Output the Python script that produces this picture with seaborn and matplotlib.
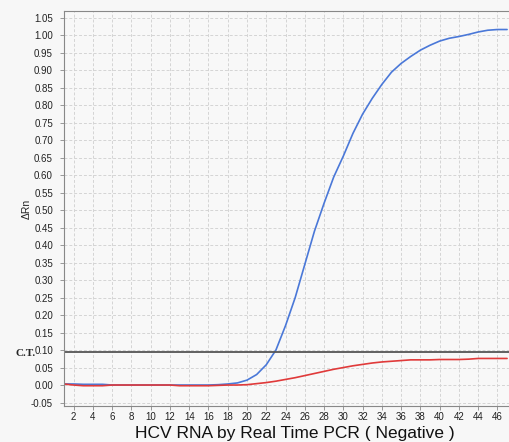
import matplotlib
matplotlib.use("Agg")
import matplotlib.pyplot as plt
import seaborn as sns
import pandas as pd

# Amplification data
cycles = list(range(1, 48))
positive = [0.003, 0.003, 0.002, 0.002, 0.002, 0.0, 0.0, 0.0, 0.0, 0.0,
            0.0, 0.0, 0.0, 0.0, 0.0, 0.0, 0.001, 0.003, 0.006, 0.014,
            0.03, 0.058, 0.10, 0.17, 0.25, 0.345, 0.44, 0.52, 0.595, 0.655,
            0.72, 0.775, 0.82, 0.86, 0.895, 0.92, 0.94, 0.958, 0.972, 0.984,
            0.992, 0.997, 1.003, 1.01, 1.015, 1.017, 1.017]
negative = [0.003, 0.0, -0.002, -0.002, -0.002, 0.0, 0.0, 0.0, 0.0, 0.0,
            0.0, 0.0, -0.002, -0.002, -0.002, -0.002, -0.001, 0.0, 0.0, 0.001,
            0.004, 0.007, 0.011, 0.016, 0.021, 0.027, 0.033, 0.039, 0.045, 0.05,
            0.055, 0.059, 0.063, 0.066, 0.068, 0.07, 0.072, 0.072, 0.072, 0.073,
            0.073, 0.073, 0.074, 0.076, 0.076, 0.076, 0.076]
threshold = 0.095

df = pd.DataFrame({'Cycle': cycles + cycles,
                   'dRn': positive + negative,
                   'Sample': ['Positive'] * len(cycles) + ['Negative'] * len(cycles)})

sns.set_style("whitegrid")
plt.rcParams['font.family'] = ['Liberation Sans', 'DejaVu Sans']

fig = plt.figure(figsize=(5.09, 4.42), dpi=100, facecolor='#f7f7f7')
ax = fig.add_axes([64 / 509, 36 / 442, 445 / 509, 395 / 442])
ax.set_facecolor('#f8f8f8')

sns.lineplot(data=df, x='Cycle', y='dRn', hue='Sample',
             palette={'Positive': '#4a78d8', 'Negative': '#e03a3a'},
             linewidth=1.2, legend=False, ax=ax)
ax.axhline(threshold, color='#555555', linewidth=1.3)

ax.set_xlim(1, 47.2)
ax.set_ylim(-0.06, 1.07)
ax.set_xticks(range(2, 47, 2))
ax.set_yticks([i * 0.05 - 0.05 for i in range(23)])
ax.set_yticklabels([f"{i * 0.05 - 0.05:.2f}" for i in range(23)])
ax.tick_params(axis='both', labelsize=7, colors='#222222', length=3,
               width=0.6, color='#888888', left=True, bottom=True)
ax.tick_params(axis='y', pad=5)
ax.tick_params(axis='x', pad=1.5)
ax.grid(True, linestyle=(0, (3, 2)), color='#d4d4d4', linewidth=0.7)
for side in ['left', 'bottom', 'top']:
    ax.spines[side].set_color('#888888')
    ax.spines[side].set_linewidth(0.8)
ax.spines['right'].set_visible(False)

ax.set_xlabel('HCV RNA by Real Time PCR ( Negative )', fontsize=12.5, color='#111111')
ax.xaxis.set_label_coords(0.519, -0.069)
ax.xaxis.label.set_va('center')
ax.set_ylabel('ΔRn', fontsize=7.5, color='#222222')
ax.yaxis.set_label_coords(-37 / 445, 0.5)
ax.yaxis.label.set_va('center')

fig.text(15 / 509, 1 - 354 / 442, 'C.T.', fontsize=8, fontweight='bold',
         family='Liberation Serif', va='center', ha='left')

fig.savefig('out.png', dpi=100, facecolor=fig.get_facecolor())
